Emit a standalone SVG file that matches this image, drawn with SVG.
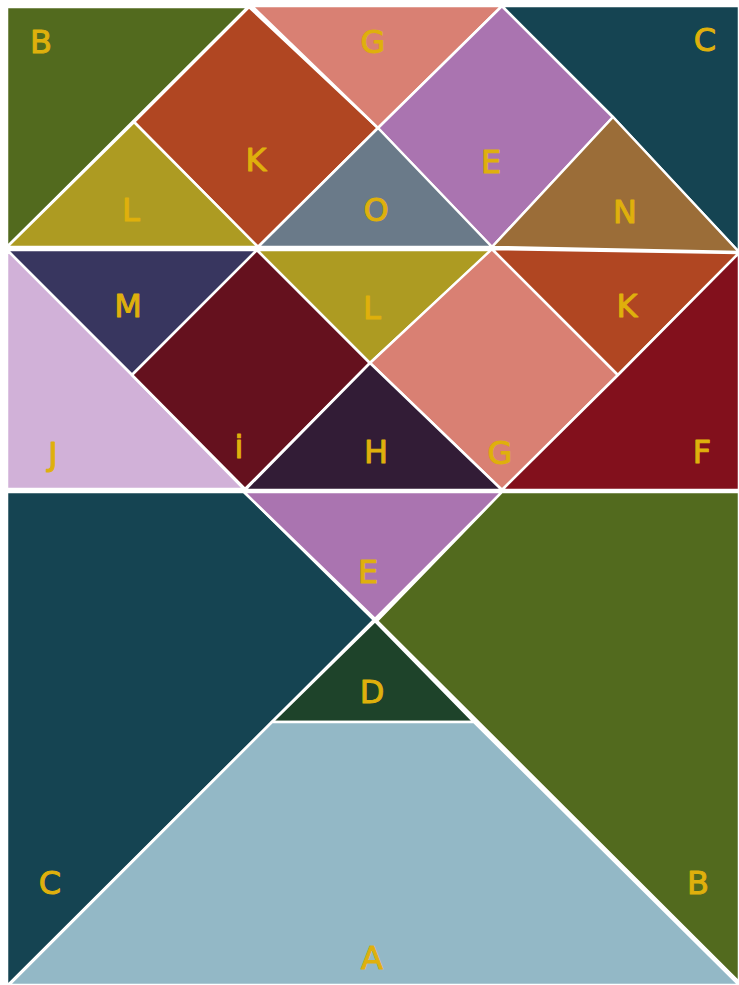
<svg xmlns="http://www.w3.org/2000/svg" width="739" height="985" viewBox="0 0 739 985">
<style>
.p{stroke:#ffffff;stroke-width:2.5;stroke-linejoin:round}
.t{font-family:"DejaVu Sans","Liberation Sans",sans-serif;font-size:32px;fill:#dfb00c;stroke:#dfb00c;stroke-width:1;stroke-linejoin:round;text-anchor:middle;dominant-baseline:central}
</style>
<rect width="739" height="985" fill="#ffffff"/>
<g id="B1"><polygon class="p" fill="#526a1e" points="7,7 248,7 7,247"/><text class="t" x="41" y="42">B</text></g>
<g id="K1"><polygon class="p" fill="#b04622" points="249,7 378,128 258,247 134,122"/><text class="t" x="256" y="160">K</text></g>
<g id="G1"><polygon class="p" fill="#d98073" points="252,6 502,6 378,128"/><text class="t" x="373" y="42">G</text></g>
<g id="E1"><polygon class="p" fill="#aa74b0" points="502,6 613,117 492,247 378,128"/><text class="t" x="491" y="162">E</text></g>
<g id="C1"><polygon class="p" fill="#154452" points="502,6 739,6 739,252 613,117"/><text class="t" x="705" y="40">C</text></g>
<g id="L1"><polygon class="p" fill="#ad9b22" points="7,247 134,122 258,247"/><text class="t" x="131" y="210">L</text></g>
<g id="O"><polygon class="p" fill="#6a7a89" points="258,247 378,128 492,247"/><text class="t" x="376" y="210">O</text></g>
<g id="N"><polygon class="p" fill="#9b6d38" points="613,117 739,252 492,247"/><text class="t" x="625" y="212">N</text></g>
<g id="M"><polygon class="p" fill="#38365f" points="7,250 257,250 132,375"/><text class="t" x="128" y="306">M</text></g>
<g id="J"><polygon class="p" fill="#d1b1d8" points="7,250 132,375 244,489 7,489"/><text class="t" x="53" y="454">J</text></g>
<g id="I"><polygon class="p" fill="#65111e" points="257,250 370,363 245,489 132,375"/><text class="t" x="239" y="447">i</text></g>
<g id="L2"><polygon class="p" fill="#ad9b22" points="257,250 492,250 370,363"/><text class="t" x="372" y="308">L</text></g>
<g id="G2"><polygon class="p" fill="#d98073" points="492,249 618,375 502,490 370,363"/><text class="t" x="500" y="453">G</text></g>
<g id="H"><polygon class="p" fill="#321c36" points="370,363 502,490 245,490"/><text class="t" x="376" y="452">H</text></g>
<g id="K2"><polygon class="p" fill="#b04622" points="492,249 739,253 618,375"/><text class="t" x="627" y="306">K</text></g>
<g id="F"><polygon class="p" fill="#82101c" points="739,253 739,490 502,490 618,375"/><text class="t" x="702" y="452">F</text></g>
<g id="C2"><polygon class="p" fill="#154452" points="7,492 244,492 374,620 9,984 7,984"/><text class="t" x="50" y="883">C</text></g>
<g id="E2"><polygon class="p" fill="#aa74b0" points="244,492 502,492 375,619"/><text class="t" x="368" y="572">E</text></g>
<g id="B2"><polygon class="p" fill="#526a1e" points="502,492 739,492 739,982 377,621"/><text class="t" x="698" y="883">B</text></g>
<g id="D"><polygon class="p" fill="#1e432a" points="375,621 474,722 272,722"/><text class="t" x="372" y="692">D</text></g>
<g id="A"><polygon class="p" fill="#93b8c6" points="272,722 474,722 739,985 9,985"/><text class="t" x="372" y="958">A</text></g>
</svg>
